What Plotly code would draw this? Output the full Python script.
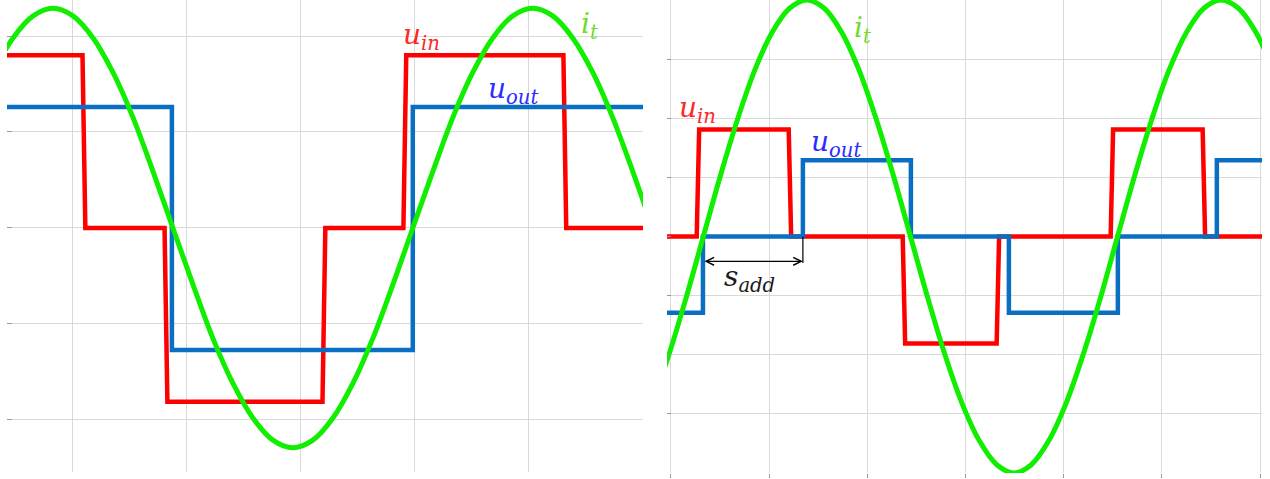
import plotly.graph_objects as go

# ---------------- left panel ----------------
# input voltage: switching instants and levels between them
LEFT_RED_T = [1.096, 1.816, 3.202, 3.912, 5.316]
LEFT_RED_V = [1.80, 0.0, -1.81, 0.0, 1.80, 0.0]
# output voltage
LEFT_BLUE_T = [1.868, 3.982]
LEFT_BLUE_V = [1.26, -1.27, 1.26]
# tank current samples
LEFT_CUR_T = [0.299, 0.474, 0.650, 0.825, 1.000, 1.176, 1.351, 1.527, 1.702, 1.877,
              2.053, 2.228, 2.404, 2.579, 2.754, 2.930, 3.105, 3.281, 3.456, 3.631,
              3.807, 3.982, 4.158, 4.333, 4.508, 4.684, 4.859, 5.035, 5.210, 5.385,
              5.561, 5.736, 5.912, 6.087, 6.262]
LEFT_CUR_V = [1.62, 1.98, 2.21, 2.29, 2.21, 1.98, 1.62, 1.15, 0.59, 0.0,
              -0.59, -1.15, -1.62, -1.98, -2.21, -2.29, -2.21, -1.98, -1.62, -1.15,
              -0.59, 0.0, 0.59, 1.15, 1.62, 1.98, 2.21, 2.29, 2.21, 1.98,
              1.62, 1.15, 0.59, 0.0, -0.59]

# ---------------- right panel ----------------
RIGHT_RED_T = [0.275, 1.212, 2.373, 3.330, 4.491, 5.428]
RIGHT_RED_V = [0.0, 1.81, 0.0, -1.81, 0.0, 1.81, 0.0]
RIGHT_BLUE_T = [0.326, 1.344, 2.444, 3.442, 4.552, 5.560]
RIGHT_BLUE_V = [-1.29, 0.0, 1.29, 0.0, -1.29, 0.0, 1.29]
RIGHT_CUR_T = [-0.373, -0.197, -0.021, 0.154, 0.330, 0.506, 0.682, 0.858, 1.033, 1.209,
               1.385, 1.561, 1.737, 1.912, 2.088, 2.264, 2.440, 2.616, 2.791, 2.967,
               3.143, 3.319, 3.495, 3.670, 3.846, 4.022, 4.198, 4.374, 4.549, 4.725,
               4.901, 5.077, 5.253, 5.428, 5.604, 5.780, 5.956, 6.132]
RIGHT_CUR_V = [-3.46, -2.83, -2.0, -1.04, 0.0, 1.04, 2.0, 2.83, 3.46, 3.86,
               4.0, 3.86, 3.46, 2.83, 2.0, 1.04, 0.0, -1.04, -2.0, -2.83,
               -3.46, -3.86, -4.0, -3.86, -3.46, -2.83, -2.0, -1.04, 0.0, 1.04,
               2.0, 2.83, 3.46, 3.86, 4.0, 3.86, 3.46, 2.83]

LEFT_XR = [0.421, 6.002]
LEFT_YR = [-2.542, 2.375]
RIGHT_XR = [-0.04, 6.02]
RIGHT_YR = [-4.0, 4.0]

RED = "#ff0000"
BLUE = "#0a6fc2"
GREEN = "#11ee00"
GRID = "#d9d9d9"


def step_path(times, levels, x0, x1, edge=0.0):
    xs, ys = [x0], [levels[0]]
    for t, a, b in zip(times, levels[:-1], levels[1:]):
        xs += [t - edge / 2, t + edge / 2]
        ys += [a, b]
    xs.append(x1)
    ys.append(levels[-1])
    return xs, ys


fig = go.Figure()

panels = [
    ("x", "y", LEFT_XR, LEFT_RED_T, LEFT_RED_V, LEFT_BLUE_T, LEFT_BLUE_V, LEFT_CUR_T, LEFT_CUR_V),
    ("x2", "y2", RIGHT_XR, RIGHT_RED_T, RIGHT_RED_V, RIGHT_BLUE_T, RIGHT_BLUE_V, RIGHT_CUR_T, RIGHT_CUR_V),
]
for xa, ya, xr, rt, rv, bt, bv, ct, cv in panels:
    x0, x1 = xr[0] - 0.1, xr[1] + 0.1
    rx, ry = step_path(rt, rv, x0, x1, edge=0.025)
    fig.add_trace(go.Scatter(x=rx, y=ry, mode="lines", xaxis=xa, yaxis=ya,
                             line=dict(color=RED, width=4.5), hoverinfo="skip"))
    bx, by = step_path(bt, bv, x0, x1)
    fig.add_trace(go.Scatter(x=bx, y=by, mode="lines", xaxis=xa, yaxis=ya,
                             line=dict(color=BLUE, width=4.5), hoverinfo="skip"))
    fig.add_trace(go.Scatter(x=ct, y=cv, mode="lines", xaxis=xa, yaxis=ya,
                             line=dict(color=GREEN, width=5, shape="spline", smoothing=1),
                             hoverinfo="skip"))

W, H = 1270, 479
axis_common = dict(showgrid=True, gridcolor=GRID, gridwidth=1, zeroline=False,
                   showticklabels=False, showline=False, dtick=1, tick0=0, fixedrange=True)

fig.update_layout(
    width=W, height=H,
    margin=dict(l=0, r=0, t=0, b=0),
    paper_bgcolor="white", plot_bgcolor="white",
    showlegend=False,
    xaxis=dict(domain=[7 / W, 643 / W], range=LEFT_XR, anchor="y", ticks="", **axis_common),
    yaxis=dict(domain=[7 / H, 1], range=LEFT_YR, anchor="x", ticks="inside", ticklen=5,
               tickcolor="#999999", **axis_common),
    xaxis2=dict(domain=[667 / W, 1262 / W], range=RIGHT_XR, anchor="y2", ticks="outside",
                ticklen=4, tickcolor="#999999", **axis_common),
    yaxis2=dict(domain=[6 / H, 1], range=RIGHT_YR, anchor="x2", ticks="inside", ticklen=4,
                tickcolor="#999999", **axis_common),
)

LABEL_FONT = "DejaVu Serif"


def label(text, x, y, color, xa, ya, size=28):
    fig.add_annotation(text=text, x=x, y=y, xref=xa, yref=ya, showarrow=False,
                       xanchor="left", yanchor="middle",
                       font=dict(family=LABEL_FONT, size=size, color=color, style="italic"))


label("u<sub>in</sub>", 3.88, 2.0, "#ff2626", "x", "y")
label("u<sub>out</sub>", 4.62, 1.43, "#2c2cff", "x", "y")
label("i<sub>t</sub>", 5.44, 2.11, "#6fdc2a", "x", "y")
label("u<sub>in</sub>", 0.06, 2.14, "#ff2626", "x2", "y2")
label("u<sub>out</sub>", 1.405, 1.58, "#2c2cff", "x2", "y2")
label("i<sub>t</sub>", 1.845, 3.5, "#6fdc2a", "x2", "y2")
label("s<sub>add</sub>", 0.52, -0.71, "#1a1a1a", "x2", "y2")

# dimension arrow between the two output-voltage edges
ARROW_Y = -0.42
fig.add_annotation(x=RIGHT_BLUE_T[1], y=ARROW_Y, ax=RIGHT_BLUE_T[0], ay=ARROW_Y,
                   xref="x2", yref="y2", axref="x2", ayref="y2", text="",
                   showarrow=True, arrowside="end+start", arrowhead=5, startarrowhead=5,
                   arrowsize=1.3, startarrowsize=1.3, arrowwidth=1.2, arrowcolor="black",
                   standoff=0, startstandoff=0)
fig.add_shape(type="line", xref="x2", yref="y2",
              x0=RIGHT_BLUE_T[1], x1=RIGHT_BLUE_T[1], y0=0, y1=ARROW_Y - 0.03,
              line=dict(color="black", width=1.2))

fig.write_html("out.html")
